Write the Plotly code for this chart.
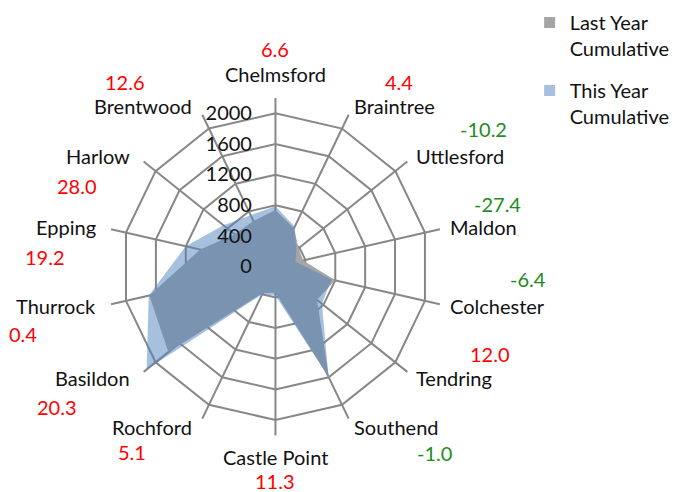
import math
import plotly.graph_objects as go

# ---------------- data ----------------
categories = ["Chelmsford", "Braintree", "Uttlesford", "Maldon", "Colchester",
              "Tendring", "Southend", "Castle Point", "Rochford", "Basildon",
              "Thurrock", "Epping", "Harlow", "Brentwood"]
last_year = [741, 556, 385, 370, 800, 692, 1611, 341, 380, 1787, 1688, 1007, 677, 662]
this_year = [790, 580, 346, 269, 749, 775, 1595, 380, 400, 2150, 1695, 1200, 866, 745]
pct_change = [6.6, 4.4, -10.2, -27.4, -6.4, 12.0, -1.0, 11.3, 5.1, 20.3, 0.4, 19.2, 28.0, 12.6]
radial_ticks = [0, 400, 800, 1200, 1600, 2000]

# ---------------- style / layout ----------------
W, H = 675, 492
CX, CY = 276.7, 266.7          # polar centre (px)
R_MAX = 2200                   # radial range max
R_PX = 169.4                   # px radius at R_MAX
FONT = "Lato"
FS = 20
GRID = "#878787"
RED, GREEN = "#ff0000", "#1e8c1e"

# label offsets from centre (px, right / down) for the % change labels
PCT_POS = [(0, -218), (124, -185), (209, -138), (223, -63), (254, 12), (215, 87),
           (160, 186), (0, 214), (-144, 185), (-219, 140), (-254, 67), (-232, -10),
           (-199, -81), (-151, -185)]

fig = go.Figure()
fig.add_trace(go.Scatterpolar(r=last_year + last_year[:1], theta=categories + categories[:1],
                              fill="toself", mode="none", fillcolor="#a5a5a5",
                              name="Last Year<br>Cumulative", showlegend=False,
                              hoverinfo="skip"))
fig.add_trace(go.Scatterpolar(r=this_year + this_year[:1], theta=categories + categories[:1],
                              fill="toself", mode="none", fillcolor="rgba(79,129,189,0.5)",
                              name="This Year<br>Cumulative", showlegend=False,
                              hoverinfo="skip"))
# legend entries
for nm, col, grp in [("Last Year<br>Cumulative", "#a5a5a5", "a"),
                     ("This Year<br>Cumulative", "#a7c0de", "b")]:
    fig.add_trace(go.Scatterpolar(r=[None], theta=[categories[0]], mode="markers",
                                  marker=dict(symbol="square", size=11, color=col),
                                  name=nm, legendgroup=grp, showlegend=True))

xd = [(CX - R_PX) / W, (CX + R_PX) / W]
yd = [(H - CY - R_PX) / H, (H - CY + R_PX) / H]

annotations = []
n = len(categories)
for i, (cat, pc) in enumerate(zip(categories, pct_change)):
    th = 2 * math.pi * i / n
    s, c = math.sin(th), math.cos(th)
    xshift = 0
    if s > 0.2:
        xa, ya, R = "left", "middle", 178
    elif s < -0.2:
        xa, ya, R, xshift = "right", "middle", 178, -5
    else:
        xa = "center"
        ya, R = ("bottom", 179) if c > 0 else ("top", 176)
    px = CX + R * s
    py = CY - R * c
    annotations.append(dict(x=px / W, y=1 - py / H, xref="paper", yref="paper",
                            text=cat, showarrow=False, xanchor=xa, yanchor=ya,
                            xshift=xshift,
                            font=dict(family=FONT, size=FS, color="#111111")))
    dx, dy = PCT_POS[i]
    annotations.append(dict(x=(CX + dx) / W, y=1 - (CY + dy) / H, xref="paper", yref="paper",
                            text=f"{pc:.1f}", showarrow=False, xanchor="center", yanchor="middle",
                            font=dict(family=FONT, size=FS, color=RED if pc > 0 else GREEN)))

fig.update_layout(
    width=W, height=H, margin=dict(l=0, r=0, t=0, b=0),
    paper_bgcolor="white", plot_bgcolor="white",
    font=dict(family=FONT, size=FS, color="#111111"),
    polar=dict(
        domain=dict(x=xd, y=yd),
        bgcolor="white",
        gridshape="linear",
        radialaxis=dict(range=[0, R_MAX], tickvals=radial_ticks, angle=90,
                        side="counterclockwise", showline=False, ticks="outside",
                        ticklen=16, tickcolor="rgba(0,0,0,0)", tickangle=90,
                        gridcolor=GRID, gridwidth=1.5, layer="above traces",
                        tickfont=dict(family=FONT, size=FS, color="#111111")),
        angularaxis=dict(type="category", categoryarray=categories, rotation=90,
                         direction="clockwise", showticklabels=False, ticks="",
                         showline=False, gridcolor=GRID, gridwidth=1.5,
                         layer="above traces"),
    ),
    legend=dict(x=532 / W, y=1 - 3 / H, xanchor="left", yanchor="top",
                font=dict(family=FONT, size=FS, color="#111111"),
                valign="top", traceorder="grouped", tracegroupgap=13,
                bgcolor="rgba(0,0,0,0)"),
    annotations=annotations,
)

fig.write_html("out.html", config={"displayModeBar": False},
               post_script="document.body.style.margin='0';document.body.style.overflow='hidden';")
